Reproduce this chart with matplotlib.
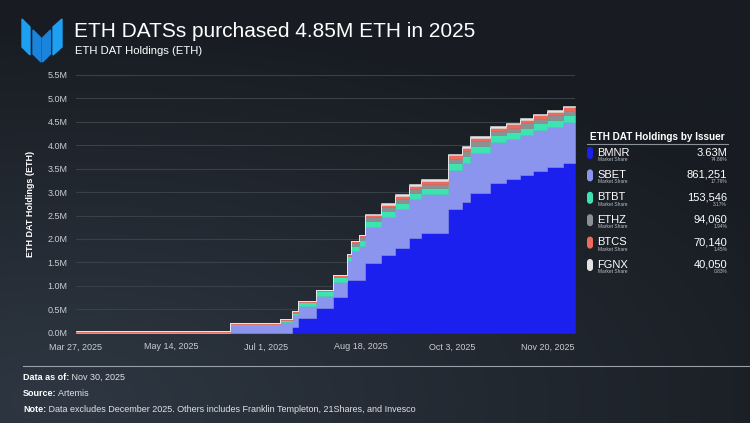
import matplotlib
matplotlib.use("Agg")
import matplotlib.pyplot as plt
from matplotlib.patches import Polygon, FancyBboxPatch
from matplotlib.lines import Line2D
import numpy as np
import pandas as pd

plt.rcParams['font.family'] = ['Liberation Sans', 'DejaVu Sans']

# step dates (start of each holding level), values in millions of ETH
step_dates = ['2025-03-27', '2025-05-14', '2025-06-13', '2025-07-08', '2025-07-14',
              '2025-07-17', '2025-07-26', '2025-08-04', '2025-08-11', '2025-08-13',
              '2025-08-17', '2025-08-20', '2025-08-28', '2025-09-04', '2025-09-11',
              '2025-09-17', '2025-10-01', '2025-10-08', '2025-10-12', '2025-10-22',
              '2025-10-30', '2025-11-06', '2025-11-13', '2025-11-20', '2025-11-28']
end_date = '2025-12-04'

bmnr = [0, 0, 0, 0, 0.13, 0.32, 0.52, 0.77, 1.13, 1.13, 1.13, 1.49, 1.66, 1.81, 2.02,
        2.12, 2.63, 2.78, 2.99, 3.20, 3.27, 3.36, 3.46, 3.53, 3.63]
sbet = [0, 0, 0.17, 0.22, 0.24, 0.25, 0.27, 0.32, 0.40, 0.62, 0.72, 0.77, 0.81, 0.84, 0.84,
        0.85, 0.85, 0.85, 0.85, 0.86, 0.86, 0.86, 0.86, 0.86, 0.861]
btbt = [0.025, 0.025, 0.025, 0.05, 0.06, 0.08, 0.10, 0.10, 0.10, 0.11, 0.12, 0.12, 0.12,
        0.12, 0.12, 0.12, 0.14, 0.15, 0.15, 0.15, 0.15, 0.153, 0.153, 0.1535, 0.1535]
ethz = [0, 0, 0, 0, 0, 0, 0, 0, 0, 0.05, 0.07, 0.08, 0.085, 0.09, 0.09, 0.09, 0.094,
        0.094, 0.094, 0.094, 0.094, 0.094, 0.094, 0.094, 0.094]
btcs = [0.002, 0.008, 0.012, 0.02, 0.025, 0.03, 0.03, 0.035, 0.04, 0.04, 0.04, 0.05, 0.06,
        0.06, 0.065, 0.065, 0.068, 0.068, 0.07, 0.07, 0.07, 0.0701, 0.0701, 0.0701, 0.0701]
fgnx = [0, 0, 0, 0, 0, 0, 0, 0, 0.01, 0.01, 0.01, 0.02, 0.04, 0.04, 0.04, 0.04, 0.04,
        0.04, 0.04, 0.04, 0.04, 0.04, 0.04, 0.04, 0.04005]

issuers = ['BMNR', 'SBET', 'BTBT', 'ETHZ', 'BTCS', 'FGNX']
holdings_text = ['3.63M', '861,251', '153,546', '94,060', '70,140', '40,050']
share_text = ['74.86%', '17.76%', '3.17%', '1.94%', '1.45%', '0.83%']
colors = ['#1c20ee', '#8b95ee', '#3ee3b2', '#8e8f93', '#ee6a5c', '#e4e4e4']

ytick_vals = [0, 0.5, 1.0, 1.5, 2.0, 2.5, 3.0, 3.5, 4.0, 4.5, 5.0, 5.5]
xtick_dates = ['2025-03-27', '2025-05-14', '2025-07-01', '2025-08-18', '2025-10-03', '2025-11-20']
xtick_labels = ['Mar 27, 2025', 'May 14, 2025', 'Jul 1, 2025', 'Aug 18, 2025',
                'Oct 3, 2025', 'Nov 20, 2025']

W, H = 750, 423
fig = plt.figure(figsize=(W / 100, H / 100), dpi=100)
fig.patch.set_facecolor('#1b2026')


def fx(x):
    return x / W


def fy(y):
    return 1 - y / H


# background gradient (lighter towards bottom left)
bg = fig.add_axes([0, 0, 1, 1], zorder=-10)
gx, gy = np.meshgrid(np.linspace(0, 1, 300), np.linspace(0, 1, 170))
d = np.sqrt(((gx - 0.08) / 1.1) ** 2 + ((gy - 0.95) / 0.9) ** 2)
t = np.clip(1 - d, 0, 1)
c0 = np.array([0x18, 0x1c, 0x22]) / 255
c1 = np.array([0x2e, 0x37, 0x42]) / 255
img = c0[None, None, :] + (c1 - c0)[None, None, :] * t[..., None]
bg.imshow(img, aspect='auto', extent=[0, 1, 0, 1])
bg.axis('off')

# logo + overlay drawing in pixel coords
lg = fig.add_axes([0, 0, 1, 1], zorder=5)
lg.set_xlim(0, W)
lg.set_ylim(H, 0)
lg.axis('off')
lg.add_patch(Polygon([(22, 19), (30, 27), (30, 55), (22, 47)], color='#1d9ff2'))
lg.add_patch(Polygon([(33, 30), (41, 38), (41, 62), (33, 54)], color='#1a84dc'))
lg.add_patch(Polygon([(42.5, 38), (50.5, 30), (50.5, 54), (42.5, 62)], color='#1a84dc'))
lg.add_patch(Polygon([(53, 27), (62, 19), (62, 47), (53, 55)], color='#1d9ff2'))

# titles
fig.text(fx(74), fy(37), 'ETH DATSs purchased 4.85M ETH in 2025', color='white',
         fontsize=15, va='baseline', ha='left')
fig.text(fx(75), fy(54), 'ETH DAT Holdings (ETH)', color='white', fontsize=8.1,
         va='baseline', ha='left')

# main chart
ax = fig.add_axes([fx(76), fy(332.7), fx(499), (332.7 - 75) / H])
ax.set_facecolor('none')
x = pd.to_datetime(step_dates + [end_date])
series = [bmnr, sbet, btbt, ethz, btcs, fgnx]
base = np.zeros(len(x))
for vals, c in zip(series, colors):
    v = np.append(vals, vals[-1])
    ax.fill_between(x, base, base + v, step='post', color=c, lw=0.4, ec=c, zorder=3)
    base = base + v

ax.set_xlim(pd.Timestamp('2025-03-27'), pd.Timestamp(end_date))
ax.set_ylim(0, 5.5)
ax.set_yticks(ytick_vals)
ax.set_yticklabels([f'{v:.1f}M' for v in ytick_vals])
ax.set_xticks(pd.to_datetime(xtick_dates))
ax.set_xticklabels(xtick_labels)
ax.yaxis.grid(True, color='#3a4047', lw=0.8)
ax.set_axisbelow(True)
for s in ax.spines.values():
    s.set_visible(False)
ax.tick_params(axis='y', length=0, pad=6, labelsize=6.5, labelcolor='#c9cdd3')
ax.tick_params(axis='x', length=0, pad=7, labelsize=6.5, labelcolor='#c9cdd3')
ax.set_ylabel('ETH DAT Holdings (ETH)', color='white', fontsize=6.5, fontweight='bold',
              labelpad=9)

# legend panel
fig.text(fx(590), fy(140), 'ETH DAT Holdings by Issuer', color='white', fontsize=7.2,
         fontweight='bold', va='baseline', ha='left')
lg.add_line(Line2D([587, 728], [144, 144], color='#8a9098', lw=0.8))
for i, (name, val, pct, c) in enumerate(zip(issuers, holdings_text, share_text, colors)):
    y0 = 151.5 + i * 22.4
    lg.add_patch(FancyBboxPatch((587, y0 - 4.5), 6, 12, boxstyle='round,pad=0,rounding_size=3',
                                fc=c, ec='none'))
    fig.text(fx(597.5), fy(y0 + 4), name, color='white', fontsize=8, va='baseline', ha='left')
    fig.text(fx(598), fy(y0 + 9.5), 'Market Share', color='#b8bcc2', fontsize=3.5,
             va='baseline', ha='left')
    fig.text(fx(727), fy(y0 + 4), val, color='white', fontsize=8, va='baseline', ha='right')
    fig.text(fx(727), fy(y0 + 9.5), pct, color='#b8bcc2', fontsize=3.5,
             va='baseline', ha='right')

# footer
lg.add_line(Line2D([23, 750], [366, 366], color='#9aa0a8', lw=0.8))
foot = [('Data as of:', ' Nov 30, 2025', 380), ('Source:', ' Artemis', 396),
        ('Note:', ' Data excludes December 2025. Others includes Franklin Templeton, 21Shares, and Invesco', 412)]
for lab, txt, yy in foot:
    tb = fig.text(fx(23), fy(yy), lab, color='white', fontsize=6.5, fontweight='bold',
                  va='baseline', ha='left')
    fig.canvas.draw()
    bb = tb.get_window_extent()
    fig.text(bb.x1 / W, fy(yy), txt, color='#e0e3e7', fontsize=6.5, va='baseline', ha='left')

fig.savefig('out.png', dpi=100, facecolor=fig.get_facecolor())
